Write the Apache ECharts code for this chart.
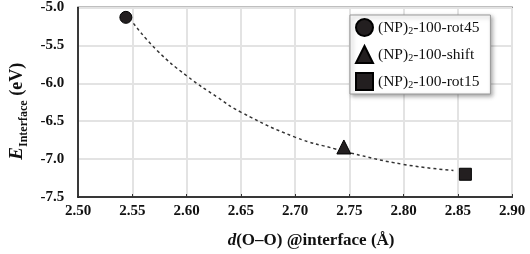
<!DOCTYPE html>
<html>
<head>
<meta charset="utf-8">
<script src="https://cdn.jsdelivr.net/npm/echarts@6/dist/echarts.min.js"></script>
<style>
html, body { margin: 0; padding: 0; background: #fff; }
#chart { width: 530px; height: 254px; }
</style>
</head>
<body>
<div id="chart"></div>
<script>
// structures: name, d(O-O) at interface, interface energy
var seriesNames = ['(NP){sub|2}-100-rot45', '(NP){sub|2}-100-shift', '(NP){sub|2}-100-rot15'];
var seriesSymbols = ['circle', 'triangle', 'rect'];
var dOO = [2.544, 2.745, 2.857];
var eInterface = [-5.13, -6.84, -7.20];

// dashed trend line
var trendX = [2.551, 2.573, 2.600, 2.629, 2.650, 2.700, 2.738, 2.751, 2.800, 2.846];
var trendY = [-5.21, -5.57, -5.90, -6.19, -6.38, -6.71, -6.87, -6.92, -7.07, -7.15];

var xTicks = [2.50, 2.90, 0.05];
var yTicks = [-7.5, -5.0, 0.5];

var serif = '"Liberation Serif", "Times New Roman", serif';
var myChart = echarts.init(document.getElementById('chart'));

var series = [];
var trendData = [];
for (var i = 0; i < trendX.length; i++) {
    trendData.push([trendX[i], trendY[i]]);
}
series.push({
    type: 'line',
    data: trendData,
    smooth: true,
    showSymbol: false,
    silent: true,
    z: 1,
    lineStyle: { color: '#333', width: 1.5, type: [3, 3] }
});
for (var j = 0; j < seriesNames.length; j++) {
    series.push({
        name: seriesNames[j],
        type: 'scatter',
        symbol: seriesSymbols[j],
        symbolSize: j == 1 ? 14 : 12,
        data: [[dOO[j], eInterface[j]]],
        z: 3,
        itemStyle: { color: '#231f20', borderColor: '#000', borderWidth: 1, opacity: 1 }
    });
}

var option = {
    animation: false,
    backgroundColor: '#fff',
    grid: {
        left: 69,
        top: 7.5,
        right: 18,
        bottom: 54,
        show: true,
        borderColor: '#000',
        borderWidth: 1.5
    },
    legend: {
        orient: 'vertical',
        left: 350,
        top: 15,
        padding: [3, 11, 3, 5],
        itemWidth: 17,
        itemHeight: 17,
        itemGap: 8,
        itemTextGap: 4,
        backgroundColor: '#fff',
        borderColor: '#999',
        borderWidth: 1,
        shadowColor: 'rgba(0,0,0,0.35)',
        shadowBlur: 4,
        shadowOffsetX: 2,
        shadowOffsetY: 2,
        data: seriesNames,
        textStyle: {
            fontFamily: serif,
            fontSize: 15.5,
            color: '#111',
            lineHeight: 18,
            rich: {
                sub: { fontFamily: serif, fontSize: 10, lineHeight: 10, verticalAlign: 'bottom', color: '#111' }
            }
        }
    },
    xAxis: {
        type: 'value',
        min: xTicks[0],
        max: xTicks[1],
        interval: xTicks[2],
        name: '{i|d}{b|(O–O) @interface (Å)}',
        nameLocation: 'middle',
        nameGap: 35,
        nameTextStyle: {
            padding: [0, 0, 0, 32],
            rich: {
                i: { fontFamily: serif, fontSize: 17, fontWeight: 'bold', fontStyle: 'italic', color: '#111' },
                b: { fontFamily: serif, fontSize: 17, fontWeight: 'bold', color: '#111' }
            }
        },
        axisLine: { lineStyle: { color: '#000', width: 1.5 } },
        axisTick: { inside: true, length: 3, lineStyle: { color: '#333' } },
        axisLabel: {
            fontFamily: serif,
            fontSize: 15,
            fontWeight: 'bold',
            color: '#111',
            margin: 7,
            formatter: function(v) { return v.toFixed(2); }
        },
        splitLine: { lineStyle: { color: '#e3e3e3', width: 2 } }
    },
    yAxis: {
        type: 'value',
        min: yTicks[0],
        max: yTicks[1],
        interval: yTicks[2],
        name: '{i|E}{sub|Interface}{b| (eV)}',
        nameLocation: 'middle',
        nameGap: 44,
        nameTextStyle: {
            padding: [0, 18, 0, 0],
            rich: {
                i: { fontFamily: serif, fontSize: 19, fontWeight: 'bold', fontStyle: 'italic', color: '#111', lineHeight: 24 },
                sub: { fontFamily: serif, fontSize: 12, fontWeight: 'bold', color: '#111', lineHeight: 12, verticalAlign: 'bottom' },
                b: { fontFamily: serif, fontSize: 18, fontWeight: 'bold', color: '#111', lineHeight: 24 }
            }
        },
        axisLine: { lineStyle: { color: '#000', width: 1.5 } },
        axisTick: { show: false },
        axisLabel: {
            fontFamily: serif,
            fontSize: 15,
            fontWeight: 'bold',
            color: '#111',
            margin: 14,
            formatter: function(v) { return v.toFixed(1); }
        },
        splitLine: { lineStyle: { color: '#e3e3e3', width: 2 } }
    },
    series: series
};

myChart.setOption(option);
</script>
</body>
</html>
